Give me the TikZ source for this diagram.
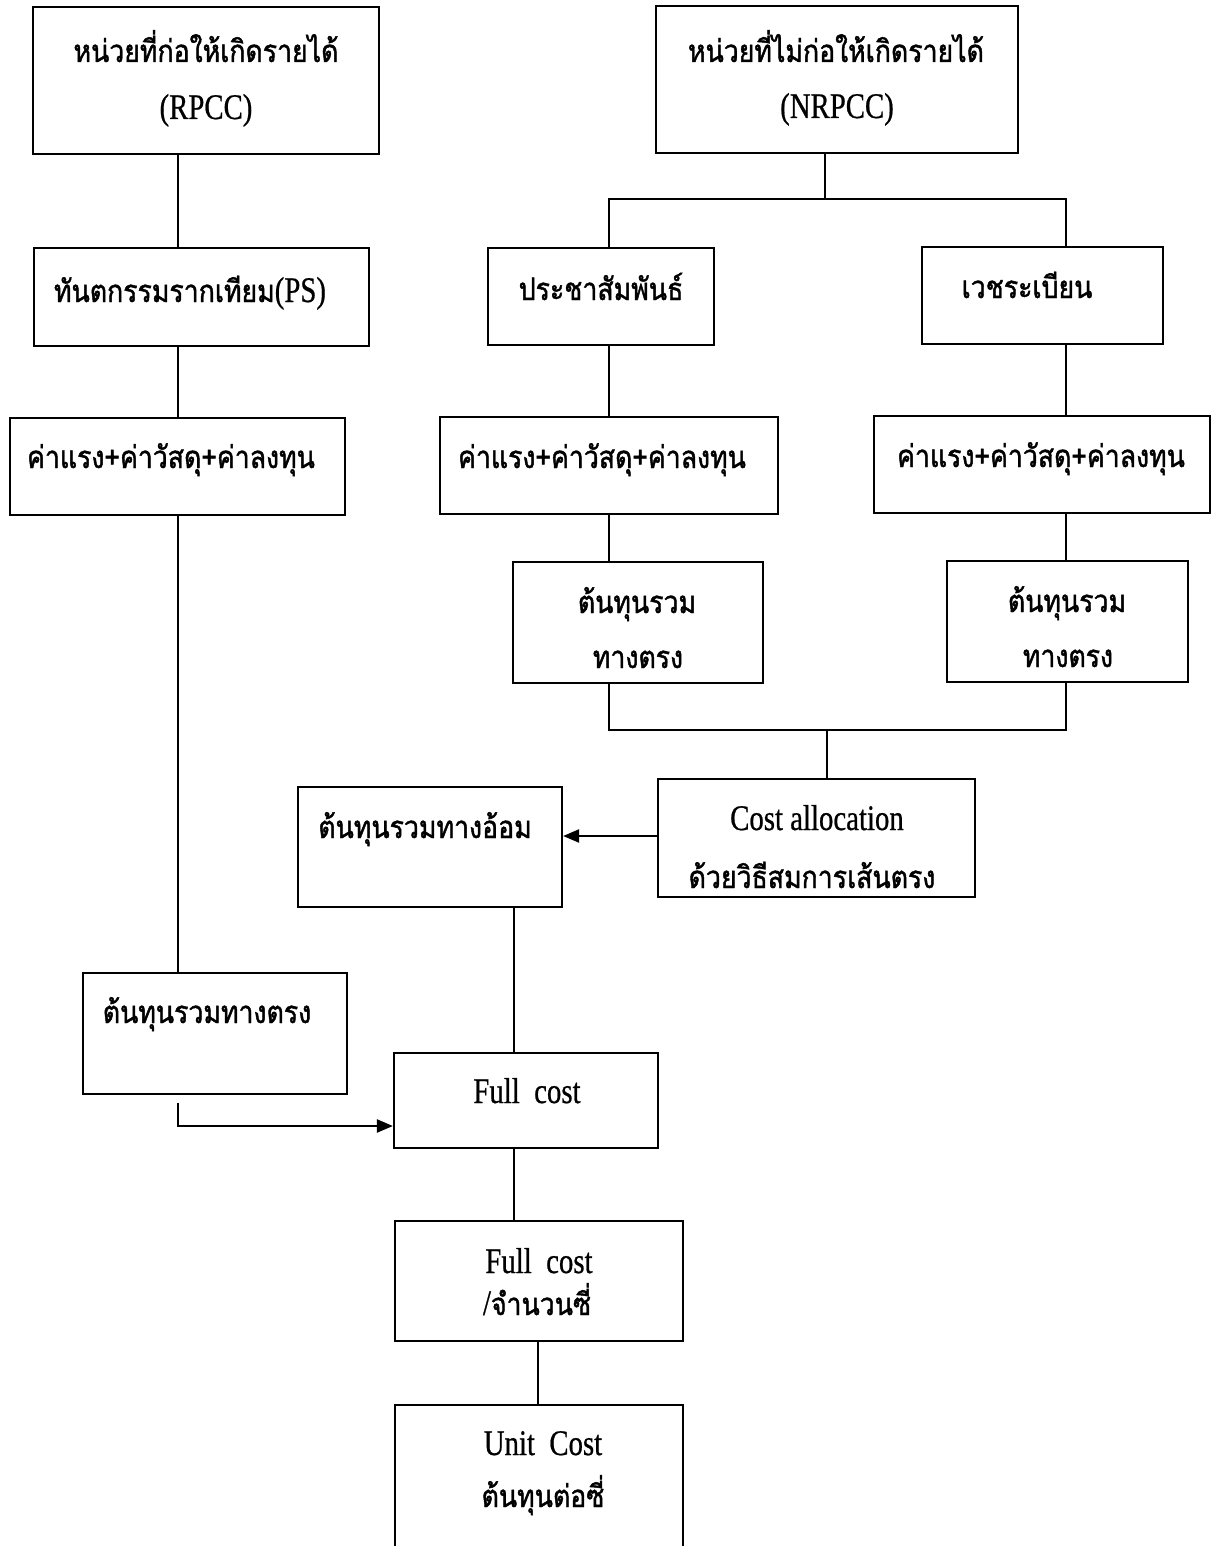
\documentclass[tikz,border=0pt]{standalone}
\usepackage{fontspec}
\setmainfont[FakeStretch=0.8]{Liberation Serif}
\newfontfamily\thai[Script=Thai,FakeStretch=0.86,FakeBold=1.4]{Loma}
\newfontfamily\lat[FakeStretch=0.8,FakeBold=0.6]{Liberation Serif}
\usetikzlibrary{fit,arrows.meta}
\tikzset{
  box/.style={draw, line width=1.1pt, inner sep=0pt},
  th/.style={font=\thai\fontsize{15.5}{18}\selectfont, inner sep=0pt, anchor=base},
  la/.style={font=\lat\fontsize{18}{20}\selectfont, inner sep=0pt, anchor=base},
  ln/.style={line width=1.1pt},
  arr/.style={line width=1.1pt, -{Triangle[length=8pt,width=6.5pt]}},
}
\begin{document}
\begin{tikzpicture}[x=0.5pt,y=-0.5pt]
\clip (0,0) rectangle (1220,1546);
\fill[white] (0,0) rectangle (1220,1546);
% column coordinates
\coordinate (xL) at (178,0);
\coordinate (xM) at (609,0);
\coordinate (xR) at (1066,0);
\coordinate (bus1) at (825,199);
\coordinate (bus2) at (827,730);
\coordinate (yA) at (0,836);
\coordinate (xI) at (514,0);
\coordinate (xU) at (538,0);
\coordinate (yF) at (0,1126);
% boxes
\node[box, fit={(33,7) (379,154)}] (rpcc) {};
\node[box, fit={(656,6) (1018,153)}] (nrpcc) {};
\node[box, fit={(34,248) (369,346)}] (ps) {};
\node[box, fit={(488,248) (714,345)}] (pr) {};
\node[box, fit={(922,247) (1163,344)}] (wc) {};
\node[box, fit={(10,418) (345,515)}] (kL) {};
\node[box, fit={(440,417) (778,514)}] (kM) {};
\node[box, fit={(874,416) (1210,513)}] (kR) {};
\node[box, fit={(513,562) (763,683)}] (tM) {};
\node[box, fit={(947,561) (1188,682)}] (tR) {};
\node[box, fit={(658,779) (975,897)}] (ca) {};
\node[box, fit={(298,787) (562,907)}] (ind) {};
\node[box, fit={(83,973) (347,1094)}] (tL) {};
\node[box, fit={(394,1053) (658,1148)}] (fc) {};
\node[box, fit={(395,1221) (683,1341)}] (fc2) {};
\node[box, fit={(395,1405) (683,1600)}] (uc) {};
% texts
\node[th] (rpcc1) at (206,62) {หน่วยที่ก่อให้เกิดรายได้};
\node[la] (rpcc2) at (206,119) {(RPCC)};
\node[th] (nrpcc1) at (836,62) {หน่วยที่ไม่ก่อให้เกิดรายได้};
\node[la] (nrpcc2) at (837,118) {(NRPCC)};
\node[th] (pst) at (190,302) {ทันตกรรมรากเทียม{\lat\fontsize{18}{20}\selectfont(PS)}};
\node[th] (prt) at (601,300) {ประชาสัมพันธ์};
\node[th] (wct) at (1027,298) {เวชระเบียน};
\node[th] (kLt) at (171,468) {ค่าแรง+ค่าวัสดุ+ค่าลงทุน};
\node[th] (kMt) at (602,468) {ค่าแรง+ค่าวัสดุ+ค่าลงทุน};
\node[th] (kRt) at (1041,467) {ค่าแรง+ค่าวัสดุ+ค่าลงทุน};
\node[th] (tMt1) at (637,613) {ต้นทุนรวม};
\node[th] (tMt2) at (638,668) {ทางตรง};
\node[th] (tRt1) at (1067,612) {ต้นทุนรวม};
\node[th] (tRt2) at (1068,667) {ทางตรง};
\node[la] (cat1) at (817,830) {Cost allocation};
\node[th] (cat2) at (812,888) {ด้วยวิธีสมการเส้นตรง};
\node[th] (indt) at (425,838) {ต้นทุนรวมทางอ้อม};
\node[th] (tLt) at (207,1023) {ต้นทุนรวมทางตรง};
\node[la] (fct) at (527,1103) {Full\ \ cost};
\node[la] (fc2t1) at (539,1273) {Full\ \ cost};
\node[th] (fc2t2) at (537,1315) {{\lat\fontsize{18}{20}\selectfont/}จำนวนซี่};
\node[la] (uct1) at (543,1455) {Unit\ \ Cost};
\node[th] (uct2) at (543,1507) {ต้นทุนต่อซี่};
% connectors
\draw[ln] (rpcc.south -| xL) -- (ps.north -| xL);
\draw[ln] (ps.south -| xL) -- (kL.north -| xL);
\draw[ln] (kL.south -| xL) -- (tL.north -| xL);
\draw[arr] ([yshift=-4pt]tL.south -| xL) |- (fc.west |- yF);
\draw[ln] (nrpcc.south -| bus1) -- (bus1);
\draw[ln] (pr.north -| xM) |- (bus1) -| (wc.north -| xR);
\draw[ln] (pr.south -| xM) -- (kM.north -| xM);
\draw[ln] (wc.south -| xR) -- (kR.north -| xR);
\draw[ln] (kM.south -| xM) -- (tM.north -| xM);
\draw[ln] (kR.south -| xR) -- (tR.north -| xR);
\draw[ln] (tM.south -| xM) |- (bus2) -| (tR.south -| xR);
\draw[ln] (bus2) -- (ca.north -| bus2);
\draw[arr] (ca.west |- yA) -- (ind.east |- yA);
\draw[ln] (ind.south -| xI) -- (fc.north -| xI);
\draw[ln] (fc.south -| xI) -- (fc2.north -| xI);
\draw[ln] (fc2.south -| xU) -- (uc.north -| xU);
\end{tikzpicture}
\end{document}
